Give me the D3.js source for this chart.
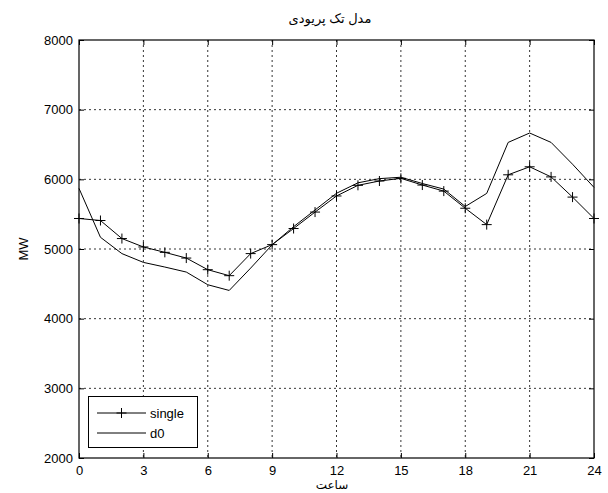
<!DOCTYPE html>
<html>
<head>
<meta charset="utf-8">
<script src="https://cdn.jsdelivr.net/npm/d3@7"></script>
<style>
  body { margin: 0; background: #fff; }
  svg text { font-family: "Liberation Sans", Arial, "DejaVu Sans", sans-serif; fill: #000; }
</style>
</head>
<body>
<svg id="chart" width="608" height="493"></svg>
<script>
// Hourly load (MW) for the single-period model and the d0 reference
const hours = d3.range(0, 25);
const singleValues = [5438, 5409, 5150, 5029, 4952, 4870, 4703, 4617, 4934, 5063, 5294, 5530, 5761,
                      5914, 5976, 6014, 5918, 5831, 5585, 5350, 6065, 6180, 6035, 5745, 5438];
const d0Values = [5870, 5168, 4934, 4808, 4741, 4669, 4487, 4405, 4726, 5060, 5320, 5560, 5800,
                  5950, 6010, 6030, 5940, 5860, 5610, 5798, 6530, 6665, 6530, 6217, 5884];
const xTicks = [0, 3, 6, 9, 12, 15, 18, 21, 24];
const yTicks = [2000, 3000, 4000, 5000, 6000, 7000, 8000];
const titleText = "مدل تک پریودی";
const xLabel = "ساعت";
const yLabel = "MW";
const seriesNames = ["single", "d0"];

const svg = d3.select("#chart");
const plotLeft = 79, plotRight = 594, plotTop = 40, plotBottom = 458;

const x = d3.scaleLinear().domain([0, 24]).range([plotLeft, plotRight]);
const y = d3.scaleLinear().domain([2000, 8000]).range([plotBottom, plotTop]);

// grid lines
const grid = svg.append("g").attr("stroke", "#000").attr("stroke-width", 0.8)
  .attr("stroke-dasharray", "2,3");
xTicks.slice(1, -1).forEach(t => grid.append("line")
  .attr("x1", x(t)).attr("x2", x(t)).attr("y1", plotTop).attr("y2", plotBottom));
yTicks.slice(1, -1).forEach(t => grid.append("line")
  .attr("x1", plotLeft).attr("x2", plotRight).attr("y1", y(t)).attr("y2", y(t)));

// axes with inward ticks on all four sides
const tickLen = 5;
const fmt = d3.format("d");
const axB = svg.append("g").attr("transform", `translate(0,${plotBottom})`)
  .call(d3.axisBottom(x).tickValues(xTicks).tickFormat(fmt).tickSizeInner(-tickLen).tickSizeOuter(0).tickPadding(7.5));
const axT = svg.append("g").attr("transform", `translate(0,${plotTop})`)
  .call(d3.axisTop(x).tickValues(xTicks).tickSizeInner(-tickLen).tickSizeOuter(0).tickFormat(""));
const axL = svg.append("g").attr("transform", `translate(${plotLeft},0)`)
  .call(d3.axisLeft(y).tickValues(yTicks).tickFormat(fmt).tickSizeInner(-tickLen).tickSizeOuter(0).tickPadding(6));
const axR = svg.append("g").attr("transform", `translate(${plotRight},0)`)
  .call(d3.axisRight(y).tickValues(yTicks).tickSizeInner(-tickLen).tickSizeOuter(0).tickFormat(""));
[axB, axT, axL, axR].forEach(a => {
  a.select(".domain").remove();
  a.selectAll("line").attr("stroke", "#000");
  a.selectAll("text").attr("font-size", 13).attr("font-family", "Liberation Sans, Arial, sans-serif");
});

// frame
svg.append("rect").attr("x", plotLeft).attr("y", plotTop)
  .attr("width", plotRight - plotLeft).attr("height", plotBottom - plotTop)
  .attr("fill", "none").attr("stroke", "#000").attr("stroke-width", 1.2);

const line = d3.line().x((d, i) => x(hours[i])).y(d => y(d));

svg.append("path").datum(d0Values).attr("d", line)
  .attr("fill", "none").attr("stroke", "#000").attr("stroke-width", 1);
svg.append("path").datum(singleValues).attr("d", line)
  .attr("fill", "none").attr("stroke", "#000").attr("stroke-width", 1);

const plusSize = 5;
const plus = (g, cx, cy) => {
  g.append("line").attr("x1", cx - plusSize).attr("x2", cx + plusSize).attr("y1", cy).attr("y2", cy);
  g.append("line").attr("x1", cx).attr("x2", cx).attr("y1", cy - plusSize).attr("y2", cy + plusSize);
};
const markers = svg.append("g").attr("stroke", "#000").attr("stroke-width", 1);
singleValues.forEach((v, i) => plus(markers, x(hours[i]), y(v)));

// title and axis labels
svg.append("text").attr("x", 330).attr("y", 23).attr("text-anchor", "middle")
  .attr("font-size", 13).attr("font-family", "DejaVu Sans, sans-serif").text(titleText);
svg.append("text").attr("x", 332).attr("y", 489).attr("text-anchor", "middle")
  .attr("font-size", 12).attr("font-family", "DejaVu Sans, sans-serif").text(xLabel);
svg.append("text").attr("transform", `translate(28,${(plotTop + plotBottom) / 2}) rotate(-90)`)
  .attr("text-anchor", "middle").attr("font-size", 13).text(yLabel);

// legend
const lg = svg.append("g");
lg.append("rect").attr("x", 88.5).attr("y", 396.5).attr("width", 109).attr("height", 51)
  .attr("fill", "#fff").attr("stroke", "#000").attr("stroke-width", 1);
const legendRows = [413, 433];
seriesNames.forEach((name, i) => {
  const ly = legendRows[i];
  lg.append("line").attr("x1", 97).attr("x2", 146).attr("y1", ly).attr("y2", ly).attr("stroke", "#000");
  if (i === 0) {
    const mg = lg.append("g").attr("stroke", "#000");
    plus(mg, 121.5, ly);
  }
  lg.append("text").attr("x", 150).attr("y", ly + 5).attr("font-size", 13).text(name);
});
</script>
</body>
</html>
